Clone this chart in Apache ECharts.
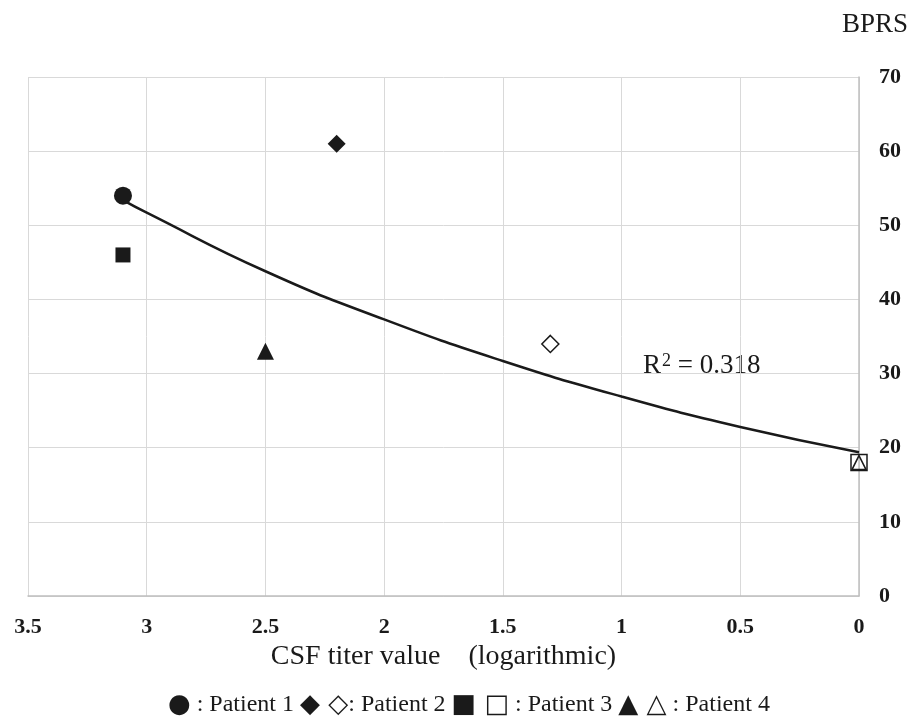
<!DOCTYPE html>
<html>
<head>
<meta charset="utf-8">
<script src="https://cdn.jsdelivr.net/npm/echarts@6/dist/echarts.min.js"></script>
<style>html,body{margin:0;padding:0;background:#fff;}#main{width:911px;height:722px;}</style>
</head>
<body>
<div id="main"></div>
<script>
// ---- data ----
const patient1X = [3.1], patient1Y = [54];
const patient2FilledX = [2.2], patient2FilledY = [61];
const patient2OpenX = [1.3], patient2OpenY = [34];
const patient3FilledX = [3.1], patient3FilledY = [46];
const patient3OpenX = [0], patient3OpenY = [18];
const patient4FilledX = [2.5], patient4FilledY = [33];
const patient4OpenX = [0], patient4OpenY = [18];
// trend curve points
const trendX = [3.1, 3.0, 2.5, 2.0, 1.5, 1.0, 0.5, 0];
const trendY = [53.4, 51.7, 43.8, 37.3, 31.7, 26.9, 22.8, 19.4];
const xMin = 0, xMax = 3.5, xStep = 0.5;
const yMin = 0, yMax = 70, yStep = 10;
const xAxisTitle = 'CSF titer value\u3000(logarithmic)';
const yAxisTitle = 'BPRS';
const r2Text = '0.318';
const legendParts = [
  ['\u25CF', ' : Patient 1 '],
  ['\u25C6 \u25C7', ': Patient 2 '],
  ['\u25A0 \u25A1', ' : Patient 3 '],
  ['\u25B2 \u25B3', ' : Patient 4']
];

const zip = (xs, ys) => xs.map((x, i) => [x, ys[i]]);
const serif = "'Liberation Serif', 'Times New Roman', serif";
const ink = '#1a1a1a';
const legendRich = legendParts.map(p => '{s|' + p[0] + '}{t|' + p[1] + '}').join('');

const chart = echarts.init(document.getElementById('main'), null, {renderer: 'canvas'});
const filled = {color: ink, opacity: 1};
const open = {color: '#ffffff', borderColor: ink, borderWidth: 1.5, opacity: 1};
chart.setOption({
  animation: false,
  backgroundColor: '#ffffff',
  grid: {left: 28, right: 52, top: 77, bottom: 126, containLabel: false},
  xAxis: {
    type: 'value', min: xMin, max: xMax, interval: xStep, inverse: true,
    name: xAxisTitle, nameLocation: 'middle', nameGap: 46,
    nameTextStyle: {fontFamily: serif, fontSize: 28, color: ink},
    axisLine: {show: true, lineStyle: {color: '#bfbfbf', width: 1.5}},
    axisTick: {show: false},
    axisLabel: {fontFamily: serif, fontSize: 22, fontWeight: 'bold', color: ink, margin: 20},
    splitLine: {show: true, lineStyle: {color: '#d9d9d9', width: 1}}
  },
  yAxis: {
    type: 'value', min: yMin, max: yMax, interval: yStep, position: 'right',
    axisLine: {show: true, lineStyle: {color: '#bfbfbf', width: 1.5}},
    axisTick: {show: false},
    axisLabel: {fontFamily: serif, fontSize: 22, fontWeight: 'bold', color: ink, margin: 20, align: 'left'},
    splitLine: {show: true, lineStyle: {color: '#d9d9d9', width: 1}}
  },
  graphic: [
    {type: 'text', right: 3, top: 11, style: {text: yAxisTitle, font: '27px ' + serif, fill: ink}},
    {type: 'text', left: 643, top: 352, style: {
      text: '{r|R}{s|2}{r| = ' + r2Text + '}',
      rich: {
        r: {fontFamily: serif, fontSize: 27, fill: ink, verticalAlign: 'bottom'},
        s: {fontFamily: serif, fontSize: 18, fill: ink, verticalAlign: 'top', padding: [0, 0, 0, 1]}
      }
    }},
    {type: 'text', left: 168, top: 692, style: {
      text: legendRich,
      rich: {
        s: {fontFamily: "'DejaVu Sans', sans-serif", fontSize: 26, fill: ink, verticalAlign: 'middle'},
        t: {fontFamily: serif, fontSize: 24, fill: ink, verticalAlign: 'middle'}
      }
    }}
  ],
  series: [
    {type: 'line', data: zip(trendX, trendY), smooth: true, showSymbol: false, symbol: 'none',
     lineStyle: {color: ink, width: 2.5}, z: 2},
    {type: 'scatter', data: zip(patient1X, patient1Y), symbol: 'circle', symbolSize: 18,
     itemStyle: filled, z: 3},
    {type: 'scatter', data: zip(patient2FilledX, patient2FilledY), symbol: 'diamond', symbolSize: 18,
     itemStyle: filled, z: 3},
    {type: 'scatter', data: zip(patient2OpenX, patient2OpenY), symbol: 'diamond', symbolSize: 17,
     itemStyle: open, z: 3},
    {type: 'scatter', data: zip(patient3FilledX, patient3FilledY), symbol: 'rect', symbolSize: 15,
     itemStyle: filled, z: 3},
    {type: 'scatter', data: zip(patient3OpenX, patient3OpenY), symbol: 'rect', symbolSize: 16,
     itemStyle: {color: 'rgba(255,255,255,0)', borderColor: ink, borderWidth: 1.5, opacity: 1}, z: 3},
    {type: 'scatter', data: zip(patient4FilledX, patient4FilledY), symbol: 'triangle', symbolSize: 17,
     itemStyle: filled, z: 3},
    {type: 'scatter', data: zip(patient4OpenX, patient4OpenY), symbol: 'triangle', symbolSize: 14,
     itemStyle: {color: 'rgba(255,255,255,0)', borderColor: ink, borderWidth: 1.5, opacity: 1}, z: 4}
  ]
});
</script>
</body>
</html>
